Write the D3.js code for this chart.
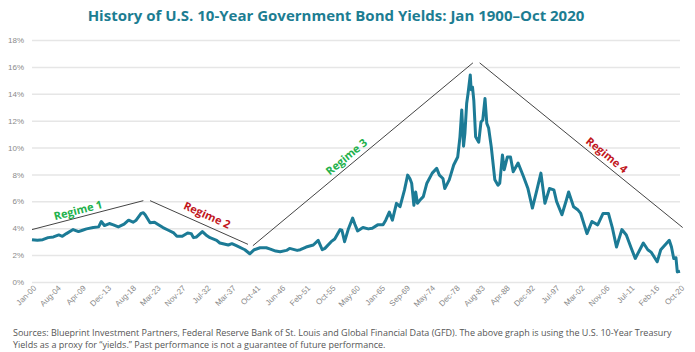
<!DOCTYPE html>
<html>
<head>
<meta charset="utf-8">
<script src="https://cdn.jsdelivr.net/npm/d3@7"></script>
<style>
  body { margin: 0; background: #fff; }
  svg { display: block; font-family: "Open Sans", sans-serif; }
</style>
</head>
<body>
<svg id="chart"></svg>
<script>
// monthly points (yield in %)
const dates = [
  "1900-01","1901-01","1902-01","1903-01","1904-01","1905-01","1905-09","1906-06","1907-09","1908-09",
  "1909-06","1910-03","1911-06","1912-06","1912-12","1913-07","1914-06","1915-03","1916-02","1917-03",
  "1918-01","1918-11","1919-06","1920-05","1920-10","1921-02","1922-01","1922-11","1923-06","1924-06",
  "1925-06","1926-06","1927-01","1928-01","1929-01","1929-09","1930-02","1930-09","1931-10","1932-06",
  "1933-03","1934-06","1935-01","1936-08","1937-04","1938-02","1939-09","1940-08","1941-06","1942-07",
  "1943-09","1944-06","1945-06","1946-04","1947-06","1948-01","1949-06","1950-01","1951-02","1952-06",
  "1953-05","1954-02","1954-08","1955-10","1956-06","1957-06","1957-10","1958-04","1958-12","1959-10",
  "1960-03","1960-09","1961-09","1962-09","1963-06","1964-06","1965-06","1965-12","1966-08","1967-03",
  "1967-12","1968-08","1969-06","1970-01","1970-06","1970-10","1971-03","1971-07","1971-11","1972-06",
  "1972-12","1973-08","1974-08","1975-06","1975-12","1976-08","1976-12","1977-10","1978-08","1979-05",
  "1979-10","1980-02","1980-06","1980-09","1981-01","1981-04","1981-09","1981-11","1982-02","1982-05",
  "1982-09","1983-04","1983-09","1984-01","1984-06","1984-10","1985-02","1985-08","1986-04","1986-11",
  "1987-03","1987-09","1988-01","1988-08","1989-03","1989-09","1990-08","1991-08","1992-06","1993-04",
  "1994-02","1994-11","1995-08","1996-06","1997-04","1997-10","1998-10","1999-08","2000-01","2000-12",
  "2001-10","2002-04","2003-06","2004-05","2005-06","2006-06","2007-06","2008-03","2008-12","2009-12",
  "2010-10","2011-08","2012-06","2013-12","2014-10","2015-06","2016-07","2017-03","2018-10","2019-03",
  "2019-08","2020-01","2020-04","2020-10"
];
const yields = [
  3.15,3.10,3.15,3.30,3.35,3.50,3.40,3.60,3.90,3.75,
  3.85,3.95,4.05,4.10,4.50,4.20,4.35,4.25,4.10,4.30,
  4.60,4.45,4.60,5.10,5.15,5.00,4.40,4.45,4.30,4.05,
  3.85,3.65,3.40,3.40,3.65,3.60,3.30,3.35,3.75,3.50,
  3.30,3.10,2.90,2.75,2.85,2.70,2.40,2.10,2.40,2.55,
  2.55,2.45,2.30,2.25,2.35,2.50,2.35,2.40,2.60,2.75,
  3.10,2.40,2.50,3.00,3.20,3.90,3.85,3.00,3.90,4.75,
  4.30,3.80,4.05,3.95,4.00,4.25,4.25,4.60,5.20,4.60,
  5.85,5.60,6.85,7.95,7.70,7.35,5.70,6.70,5.85,6.15,
  6.35,7.35,8.10,8.45,7.95,7.70,6.95,7.60,8.70,9.30,
  10.80,12.80,10.10,11.05,13.30,14.00,15.40,14.30,14.50,13.50,
  10.80,10.40,11.90,12.05,13.65,11.80,11.45,10.05,7.60,7.20,
  7.35,9.45,8.35,9.30,9.30,8.20,8.85,7.85,6.95,5.50,
  6.85,8.10,5.85,6.95,6.85,6.00,5.00,6.10,6.70,5.60,
  5.35,5.10,3.60,4.50,4.25,5.10,5.10,4.00,2.60,3.90,
  3.50,2.60,1.75,2.90,2.40,2.20,1.50,2.40,3.10,2.60,
  1.75,1.80,0.75,0.80
];

const yTicks = [0, 2, 4, 6, 8, 10, 12, 14, 16, 18];
const xTickDates = [
  "1900-01","1904-08","1909-04","1913-12","1918-08","1923-03","1927-11","1932-07","1937-03",
  "1941-10","1946-06","1951-02","1955-10","1960-05","1965-01","1969-09","1974-05","1978-12",
  "1983-08","1988-04","1992-12","1997-07","2002-03","2006-11","2011-07","2016-02","2020-10"
];

// trend lines drawn over the series
const regimeNames = ["Regime 1", "Regime 2", "Regime 3", "Regime 4"];
const regimeStart = [["1900-01", 3.9], ["1922-01", 6.05], ["1941-03", 2.7], ["1983-06", 16.3]];
const regimeEnd = [["1920-10", 6.05], ["1940-04", 2.8], ["1982-03", 16.3], ["2021-04", 4.05]];
const regimeColors = ["#22b14c", "#c1161c", "#22b14c", "#c1161c"];

const title = "History of U.S. 10-Year Government Bond Yields: Jan 1900\u2013Oct 2020";
const notes = [
  "Sources: Blueprint Investment Partners, Federal Reserve Bank of St. Louis and Global Financial Data (GFD). The above graph is using the U.S. 10-Year Treasury",
  "Yields as a proxy for \u201cyields.\u201d Past performance is not a guarantee of future performance."
];

const width = 695, height = 352;
const margin = { top: 40, right: 15, bottom: 70, left: 32 };
const parse = d3.timeParse("%Y-%m");

const svg = d3.select("#chart").attr("width", width).attr("height", height);

const series = dates.map((d, i) => ({ date: parse(d), v: yields[i] }));

const x = d3.scaleTime()
  .domain([parse("1900-01"), parse("2020-10")])
  .range([margin.left, width - margin.right]);

const y = d3.scaleLinear()
  .domain([0, 18])
  .range([height - margin.bottom, margin.top]);

// Title
svg.append("text")
  .attr("x", 336)
  .attr("y", 21)
  .attr("text-anchor", "middle")
  .style("font-size", "15px")
  .style("font-weight", "bold")
  .style("fill", "#1c7d92")
  .text(title);

// Y grid + labels
const yAxis = svg.append("g")
  .attr("transform", `translate(${margin.left},0)`)
  .call(d3.axisLeft(y).tickValues(yTicks).tickFormat((d) => d + "%")
    .tickSize(-(width - margin.left - margin.right)).tickPadding(8));
yAxis.select(".domain").remove();
yAxis.selectAll(".tick line").attr("stroke", "#e6e6e6").attr("stroke-width", 1.5);
yAxis.selectAll("text").style("font-size", "8px").style("fill", "#8a8a8a");

// X labels
const xAxis = svg.append("g")
  .attr("transform", `translate(0,${height - margin.bottom})`)
  .call(d3.axisBottom(x).tickValues(xTickDates.map(parse))
    .tickFormat(d3.timeFormat("%b-%y")).tickSize(0));
xAxis.select(".domain").remove();
xAxis.selectAll("text")
  .style("font-size", "8px")
  .style("fill", "#8a8a8a")
  .attr("text-anchor", "end")
  .attr("dx", "-0.2em")
  .attr("dy", "0.6em")
  .attr("transform", "rotate(-45)");

// Yield line
const line = d3.line()
  .x((d) => x(d.date))
  .y((d) => y(d.v));

svg.append("path")
  .datum(series)
  .attr("fill", "none")
  .attr("stroke", "#1c7b96")
  .attr("stroke-width", 3)
  .attr("stroke-linejoin", "round")
  .attr("d", line);

// Regime trend lines + labels
regimeNames.forEach((name, i) => {
  const x1 = x(parse(regimeStart[i][0])), y1 = y(regimeStart[i][1]);
  const x2 = x(parse(regimeEnd[i][0])), y2 = y(regimeEnd[i][1]);
  svg.append("line")
    .attr("x1", x1).attr("y1", y1)
    .attr("x2", x2).attr("y2", y2)
    .attr("stroke", "#444")
    .attr("stroke-width", 1);

  const ang = Math.atan2(y2 - y1, x2 - x1);
  const t = [0.43, 0.54, 0.45, 0.6][i];
  const off = [7, 10, 8.5, 8.5][i];
  const cx = x1 + (x2 - x1) * t + Math.sin(ang) * off;
  const cy = y1 + (y2 - y1) * t - Math.cos(ang) * off;
  svg.append("text")
    .attr("transform", `translate(${cx},${cy}) rotate(${(ang * 180) / Math.PI})`)
    .attr("text-anchor", "middle")
    .attr("dy", "0.35em")
    .style("font-size", "11px")
    .style("font-weight", "bold")
    .style("fill", regimeColors[i])
    .text(name);
});

// Footnote
svg.append("g")
  .selectAll("text")
  .data(notes)
  .enter()
  .append("text")
  .attr("x", 13)
  .attr("y", (d, i) => 336 + i * 12)
  .style("font-size", "9px")
  .style("fill", "#555")
  .text((d) => d);
</script>
</body>
</html>
